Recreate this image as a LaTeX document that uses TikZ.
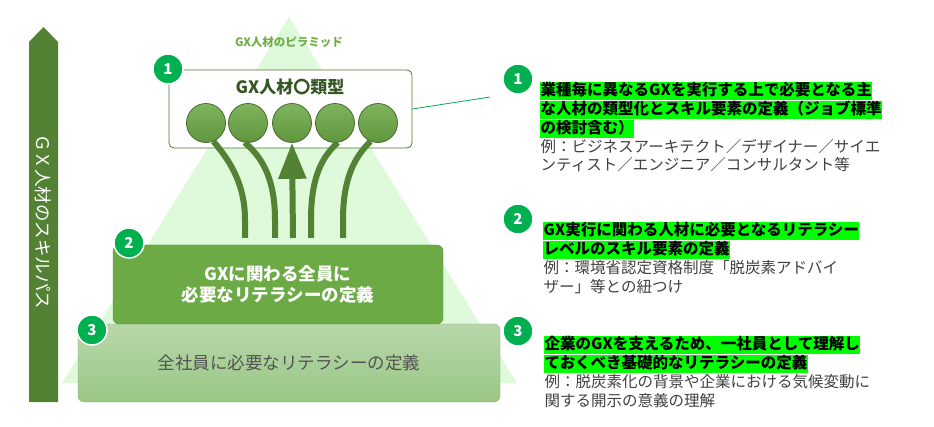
\documentclass[tikz,border=0pt]{standalone}
\usepackage{fontspec}
\setmainfont{Noto Sans CJK JP}
\usepackage{tikz}
\usetikzlibrary{arrows.meta, positioning, calc}
\definecolor{gx_dark}{RGB}{84, 130, 53}
\definecolor{gx_mid}{RGB}{108, 170, 70}
\definecolor{gx_pale}{RGB}{222, 250, 219}
\definecolor{gx_badge}{RGB}{0, 176, 80}
\definecolor{gx_mark}{RGB}{0, 255, 0}
\definecolor{gx_text}{RGB}{64, 64, 64}
\definecolor{gx_lowtop}{RGB}{184, 215, 170}
\definecolor{gx_lowbot}{RGB}{154, 199, 133}
\definecolor{gx_title}{RGB}{112, 173, 71}
\definecolor{gx_deep}{RGB}{55, 86, 35}

\begin{document}
\begin{tikzpicture}[x=1pt, y=-1pt,
        badge/.style={circle, fill=gx_badge, draw=white, line width=1.5pt,
                      minimum size=30pt, inner sep=0pt, text=white,
                      font=\fontsize{15}{15}\selectfont\bfseries},
        ball/.style={circle, minimum size=39pt, inner sep=0pt, line width=0.7pt,
                     draw=gx_dark!75!black, top color=gx_mid!88!white,
                     bottom color=gx_mid!88!black},
        flow/.style={gx_dark, line width=6pt},
        hl/.style={fill=gx_mark, inner xsep=0.5pt, inner ysep=0pt, anchor=north west,
                   text height=13.8pt, text depth=4.5pt,
                   font=\fontsize{15.5}{18}\selectfont\bfseries},
        note/.style={inner xsep=0.5pt, inner ysep=0pt, anchor=north west, text=gx_text,
                     text height=13.8pt, text depth=4.5pt,
                     font=\fontsize{15.5}{18}\selectfont},
      ]
        \useasboundingbox (0,0) rectangle (934,427);

        % pyramid behind everything
        \fill[gx_pale] (289,17) -- (517,383) -- (62,383) -- cycle;
        \node[gx_title, font=\fontsize{11.5}{12}\selectfont\bfseries] (ptitle) at (289,42)
          {GX人材のピラミッド};

        % skill path arrow
        \fill[gx_dark] (29,402) -- (29,42) -- (43.5,27) -- (58,42) -- (58,402) -- cycle;
        \node[white, rotate=-90, font=\fontsize{17.5}{17}\selectfont] (skill) at (43.5,222)
          {ＧＸ人材のスキルパス};

        % three levels
        \node[draw=gx_lowbot!90!black, top color=gx_lowtop, bottom color=gx_lowbot,
              rounded corners=6pt, minimum width=422pt, minimum height=78pt,
              text=gx_text!90!white, font=\fontsize{17.5}{21}\selectfont] (lv3) at (289,363)
          {全社員に必要なリテラシーの定義};
        \node[fill=gx_mid, draw=gx_mid!85!black, rounded corners=6pt,
              minimum width=330pt, minimum height=79pt, text=white, align=center,
              font=\fontsize{17.5}{21}\selectfont\bfseries] (lv2) at (278,284.5)
          {GXに関わる全員に\\必要なリテラシーの定義};
        \node[fill=white, draw=gx_dark!90!black, line width=0.8pt, rounded corners=5pt,
              minimum width=243pt, minimum height=78pt] (lv1) at (290.5,109) {};
        \node[gx_deep, font=\fontsize{17}{17}\selectfont\bfseries] (lv1t) at (290,87)
          {GX人材〇類型};

        \foreach \i/\x in {1/206, 2/248, 3/292, 4/335, 5/378}
          \node[ball] (b\i) at (\x,123) {};

        % flows from level 2 up to the types
        \coordinate (e1) at (245,238);
        \coordinate (e2) at (275,238);
        \coordinate (e3) at (293,238);
        \coordinate (e4) at (311,238);
        \coordinate (e5) at (343,238);
        \draw[flow] (b1.-68) .. controls (231,162) and (245,185) .. (245,220) -- (e1);
        \draw[flow] (b2.-100) .. controls (266,160) and (275,185) .. (275,220) -- (e2);
        \draw[flow] (b4.-82) .. controls (318,160) and (311,185) .. (311,220) -- (e4);
        \draw[flow] (b5.-112) .. controls (351,160) and (343,185) .. (343,220) -- (e5);
        \draw[flow, -{Triangle[length=36pt, width=27pt]}] (e3) -- (b3.south);

        % badges
        \node[badge] (n1) at (168,69) {1};
        \node[badge] (n2) at (129,243) {2};
        \node[badge] (n3) at (92,330) {3};
        \node[badge] (m1) at (518,79) {1};
        \node[badge] (m2) at (518,219) {2};
        \node[badge] (m3) at (518,331) {3};

        \coordinate (lead) at (490,97);
        \draw[gx_badge, line width=0.8pt] (lv1.east) -- (lead);

        % explanations
        \node[hl] (t1a) at (540,82) {業種毎に異なるGXを実行する上で必要となる主};
        \node[hl] (t1b) at (t1a.south west) {な人材の類型化とスキル要素の定義（ジョブ標準};
        \node[hl] (t1c) at (t1b.south west) {の検討含む）};
        \node[note] (t1d) at (t1c.south west) {例：ビジネスアーキテクト／デザイナー／サイエ};
        \node[note] (t1e) at (t1d.south west) {ンティスト／エンジニア／コンサルタント等};

        \node[hl] (t2a) at (543,222) {GX実行に関わる人材に必要となるリテラシー};
        \node[hl] (t2b) at (t2a.south west) {レベルのスキル要素の定義};
        \node[note] (t2c) at (t2b.south west) {例：環境省認定資格制度「脱炭素アドバイ};
        \node[note] (t2d) at (t2c.south west) {ザー」等との紐つけ};

        \node[hl] (t3a) at (544,336) {企業のGXを支えるため、一社員として理解し};
        \node[hl] (t3b) at (t3a.south west) {ておくべき基礎的なリテラシーの定義};
        \node[note] (t3c) at (t3b.south west) {例：脱炭素化の背景や企業における気候変動に};
        \node[note] (t3d) at (t3c.south west) {関する開示の意義の理解};
      \end{tikzpicture}
\end{document}
